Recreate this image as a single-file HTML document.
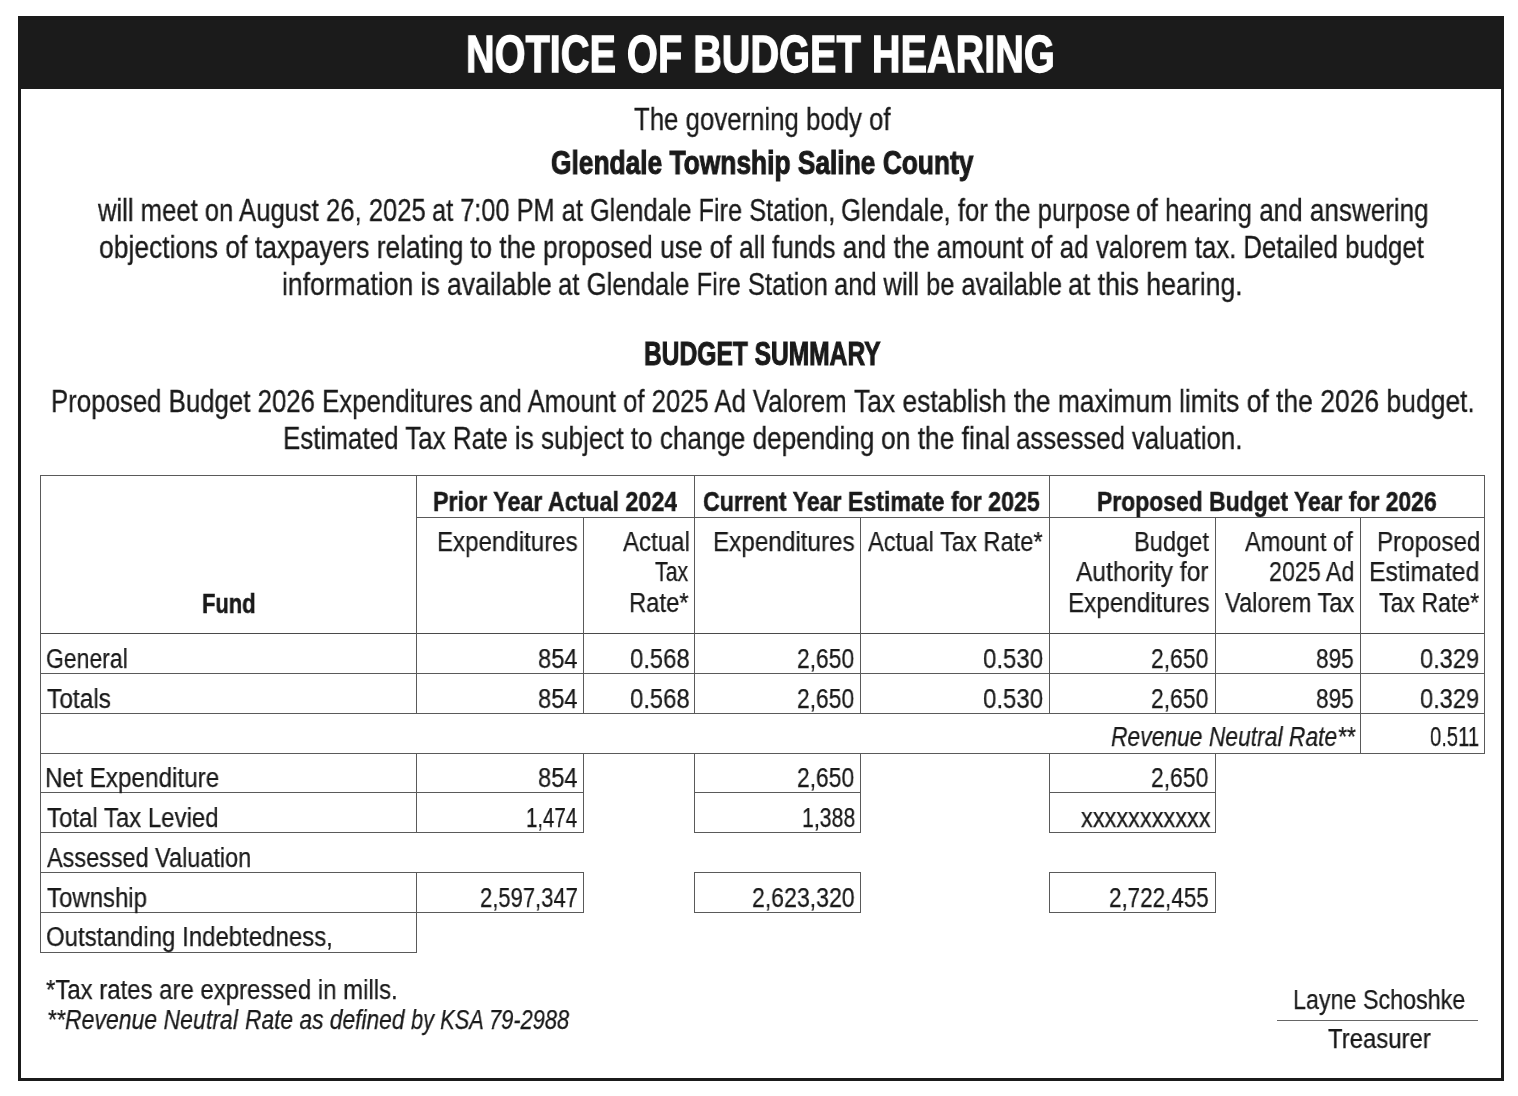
<!DOCTYPE html>
<html><head><meta charset="utf-8"><title>Notice of Budget Hearing</title>
<style>
html,body{margin:0;padding:0;background:#fff;width:1518px;height:1096px;overflow:hidden}
body{position:relative;-webkit-font-smoothing:antialiased;font-family:"Liberation Sans",sans-serif;color:#1a1a1a}
.frame{position:absolute;left:18px;top:16px;width:1480px;height:1062px;border:3px solid #1b1b1b;border-top:0}
.bar{position:absolute;left:18px;top:16px;width:1486px;height:73px;background:#1b1b1b}
.t{position:absolute;white-space:nowrap;line-height:0;transform-origin:0 0;will-change:transform}
.l{position:absolute}
.title{font-weight:700;font-style:normal;font-size:51.2px;-webkit-text-stroke:1.3px currentColor}
.sub{font-weight:700;font-style:normal;font-size:33.0px;-webkit-text-stroke:1.0px currentColor}
.body{font-weight:400;font-style:normal;font-size:30.5px;-webkit-text-stroke:0.3px currentColor}
.tb{font-weight:700;font-style:normal;font-size:27.0px;-webkit-text-stroke:0.5px currentColor}
.tr{font-weight:400;font-style:normal;font-size:26.8px;-webkit-text-stroke:0.25px currentColor}
.ti{font-weight:400;font-style:italic;font-size:26.8px;-webkit-text-stroke:0.25px currentColor}
.foot{font-weight:400;font-style:normal;font-size:27.0px;-webkit-text-stroke:0.25px currentColor}
.footi{font-weight:400;font-style:italic;font-size:27.0px;-webkit-text-stroke:0.25px currentColor}
</style></head><body>
<div class="frame"></div>
<div class="bar"></div>
<div class="l" style="left:40px;top:475px;width:1445px;height:1px;background:#5a5a5a"></div>
<div class="l" style="left:416px;top:517px;width:1069px;height:1px;background:#5a5a5a"></div>
<div class="l" style="left:40px;top:633px;width:1445px;height:1px;background:#4a4a4a"></div>
<div class="l" style="left:40px;top:673px;width:1445px;height:1px;background:#5a5a5a"></div>
<div class="l" style="left:40px;top:713px;width:1445px;height:1px;background:#5a5a5a"></div>
<div class="l" style="left:40px;top:753px;width:1445px;height:1px;background:#5a5a5a"></div>
<div class="l" style="left:40px;top:792px;width:544px;height:1px;background:#5a5a5a"></div>
<div class="l" style="left:694px;top:792px;width:167px;height:1px;background:#5a5a5a"></div>
<div class="l" style="left:1049px;top:792px;width:167px;height:1px;background:#5a5a5a"></div>
<div class="l" style="left:40px;top:832px;width:544px;height:1px;background:#5a5a5a"></div>
<div class="l" style="left:694px;top:832px;width:167px;height:1px;background:#5a5a5a"></div>
<div class="l" style="left:1049px;top:832px;width:167px;height:1px;background:#5a5a5a"></div>
<div class="l" style="left:40px;top:872px;width:544px;height:1px;background:#5a5a5a"></div>
<div class="l" style="left:694px;top:872px;width:167px;height:1px;background:#5a5a5a"></div>
<div class="l" style="left:1049px;top:872px;width:167px;height:1px;background:#5a5a5a"></div>
<div class="l" style="left:40px;top:912px;width:544px;height:1px;background:#5a5a5a"></div>
<div class="l" style="left:694px;top:912px;width:167px;height:1px;background:#5a5a5a"></div>
<div class="l" style="left:1049px;top:912px;width:167px;height:1px;background:#5a5a5a"></div>
<div class="l" style="left:40px;top:952px;width:377px;height:1px;background:#5a5a5a"></div>
<div class="l" style="left:40px;top:475px;width:1px;height:478px;background:#5a5a5a"></div>
<div class="l" style="left:416px;top:475px;width:1px;height:239px;background:#5a5a5a"></div>
<div class="l" style="left:416px;top:753px;width:1px;height:80px;background:#5a5a5a"></div>
<div class="l" style="left:416px;top:872px;width:1px;height:81px;background:#5a5a5a"></div>
<div class="l" style="left:583px;top:517px;width:1px;height:197px;background:#5a5a5a"></div>
<div class="l" style="left:583px;top:753px;width:1px;height:80px;background:#5a5a5a"></div>
<div class="l" style="left:583px;top:872px;width:1px;height:41px;background:#5a5a5a"></div>
<div class="l" style="left:694px;top:475px;width:1px;height:239px;background:#5a5a5a"></div>
<div class="l" style="left:694px;top:753px;width:1px;height:80px;background:#5a5a5a"></div>
<div class="l" style="left:694px;top:872px;width:1px;height:41px;background:#5a5a5a"></div>
<div class="l" style="left:860px;top:517px;width:1px;height:197px;background:#5a5a5a"></div>
<div class="l" style="left:860px;top:753px;width:1px;height:80px;background:#5a5a5a"></div>
<div class="l" style="left:860px;top:872px;width:1px;height:41px;background:#5a5a5a"></div>
<div class="l" style="left:1049px;top:475px;width:1px;height:239px;background:#5a5a5a"></div>
<div class="l" style="left:1049px;top:753px;width:1px;height:80px;background:#5a5a5a"></div>
<div class="l" style="left:1049px;top:872px;width:1px;height:41px;background:#5a5a5a"></div>
<div class="l" style="left:1215px;top:517px;width:1px;height:197px;background:#5a5a5a"></div>
<div class="l" style="left:1215px;top:753px;width:1px;height:80px;background:#5a5a5a"></div>
<div class="l" style="left:1215px;top:872px;width:1px;height:41px;background:#5a5a5a"></div>
<div class="l" style="left:1360px;top:517px;width:1px;height:237px;background:#5a5a5a"></div>
<div class="l" style="left:1484px;top:475px;width:1px;height:279px;background:#5a5a5a"></div>
<div class="l" style="left:1277px;top:1020px;width:201px;height:1px;background:#666"></div>
<div class="t title" style="left:466.25px;top:55px;transform:scaleX(0.7755);color:#ffffff">NOTICE OF BUDGET HEARING</div>
<div class="t body" style="left:634.00px;top:119px;transform:scaleX(0.8454)">The governing body of</div>
<div class="t sub" style="left:551.00px;top:163px;transform:scaleX(0.7981)">Glendale Township Saline County</div>
<div class="t body" style="left:98.04px;top:210px;transform:scaleX(0.8405)">will meet on August 26, 2025</div>
<div class="t body" style="left:432.17px;top:210px;transform:scaleX(0.8315)">at 7:00 PM at Glendale Fire Station,</div>
<div class="t body" style="left:840.96px;top:210px;transform:scaleX(0.8406)">Glendale, for the purpose</div>
<div class="t body" style="left:1136.45px;top:210px;transform:scaleX(0.8544)">of hearing and answering</div>
<div class="t body" style="left:99.23px;top:247px;transform:scaleX(0.8667)">objections of taxpayers relating</div>
<div class="t body" style="left:470.40px;top:247px;transform:scaleX(0.8622)">to the proposed use of all</div>
<div class="t body" style="left:772.40px;top:247px;transform:scaleX(0.8524)">funds and the amount of ad</div>
<div class="t body" style="left:1095.80px;top:247px;transform:scaleX(0.8445)">valorem tax. Detailed budget</div>
<div class="t body" style="left:282.23px;top:284px;transform:scaleX(0.8695)">information is available</div>
<div class="t body" style="left:558.06px;top:284px;transform:scaleX(0.8421)">at Glendale Fire Station</div>
<div class="t body" style="left:833.86px;top:284px;transform:scaleX(0.8354)">and will be available</div>
<div class="t body" style="left:1068.23px;top:284px;transform:scaleX(0.8726)">at this hearing.</div>
<div class="t sub" style="left:643.86px;top:354px;transform:scaleX(0.7445)">BUDGET SUMMARY</div>
<div class="t body" style="left:50.91px;top:401px;transform:scaleX(0.8460)">Proposed Budget 2026 Expenditures</div>
<div class="t body" style="left:479.36px;top:401px;transform:scaleX(0.8414)">and Amount of 2025 Ad Valorem</div>
<div class="t body" style="left:854.20px;top:401px;transform:scaleX(0.8649)">Tax establish the maximum</div>
<div class="t body" style="left:1178.73px;top:401px;transform:scaleX(0.8680)">limits of the 2026 budget.</div>
<div class="t body" style="left:282.80px;top:438px;transform:scaleX(0.8514)">Estimated Tax Rate is</div>
<div class="t body" style="left:541.10px;top:438px;transform:scaleX(0.8548)">subject to change depending</div>
<div class="t body" style="left:880.73px;top:438px;transform:scaleX(0.8653)">on the final</div>
<div class="t body" style="left:1015.96px;top:438px;transform:scaleX(0.8449)">assessed valuation.</div>
<div class="t tb" style="left:433.24px;top:502px;transform:scaleX(0.8608)">Prior Year Actual 2024</div>
<div class="t tb" style="left:703.40px;top:502px;transform:scaleX(0.8575)">Current Year Estimate for 2025</div>
<div class="t tb" style="left:1096.75px;top:502px;transform:scaleX(0.8491)">Proposed Budget Year for 2026</div>
<div class="t tb" style="left:201.79px;top:604px;transform:scaleX(0.8109)">Fund</div>
<div class="t tr" style="left:436.70px;top:542px;transform:scaleX(0.8994)">Expenditures</div>
<div class="t tr" style="left:622.80px;top:542px;transform:scaleX(0.8986)">Actual</div>
<div class="t tr" style="left:655.00px;top:572px;transform:scaleX(0.7952)">Tax</div>
<div class="t tr" style="left:628.82px;top:603px;transform:scaleX(0.8892)">Rate*</div>
<div class="t tr" style="left:713.19px;top:542px;transform:scaleX(0.9058)">Expenditures</div>
<div class="t tr" style="left:868.00px;top:542px;transform:scaleX(0.8838)">Actual Tax Rate*</div>
<div class="t tr" style="left:1133.73px;top:542px;transform:scaleX(0.8831)">Budget</div>
<div class="t tr" style="left:1075.80px;top:572px;transform:scaleX(0.9172)">Authority for</div>
<div class="t tr" style="left:1067.59px;top:603px;transform:scaleX(0.9052)">Expenditures</div>
<div class="t tr" style="left:1245.20px;top:542px;transform:scaleX(0.8813)">Amount of</div>
<div class="t tr" style="left:1269.43px;top:572px;transform:scaleX(0.8677)">2025 Ad</div>
<div class="t tr" style="left:1224.80px;top:603px;transform:scaleX(0.8822)">Valorem Tax</div>
<div class="t tr" style="left:1376.70px;top:542px;transform:scaleX(0.9009)">Proposed</div>
<div class="t tr" style="left:1369.15px;top:572px;transform:scaleX(0.9267)">Estimated</div>
<div class="t tr" style="left:1378.50px;top:603px;transform:scaleX(0.8621)">Tax Rate*</div>
<div class="t tr" style="left:45.64px;top:659px;transform:scaleX(0.8570)">General</div>
<div class="t tr" style="left:538.12px;top:659px;transform:scaleX(0.8837)">854</div>
<div class="t tr" style="left:629.71px;top:659px;transform:scaleX(0.8892)">0.568</div>
<div class="t tr" style="left:796.95px;top:659px;transform:scaleX(0.8515)">2,650</div>
<div class="t tr" style="left:983.00px;top:659px;transform:scaleX(0.8955)">0.530</div>
<div class="t tr" style="left:1151.25px;top:659px;transform:scaleX(0.8545)">2,650</div>
<div class="t tr" style="left:1316.46px;top:659px;transform:scaleX(0.8442)">895</div>
<div class="t tr" style="left:1420.32px;top:659px;transform:scaleX(0.8815)">0.329</div>
<div class="t tr" style="left:46.50px;top:699px;transform:scaleX(0.9145)">Totals</div>
<div class="t tr" style="left:538.12px;top:699px;transform:scaleX(0.8837)">854</div>
<div class="t tr" style="left:629.71px;top:699px;transform:scaleX(0.8892)">0.568</div>
<div class="t tr" style="left:796.95px;top:699px;transform:scaleX(0.8515)">2,650</div>
<div class="t tr" style="left:983.00px;top:699px;transform:scaleX(0.8955)">0.530</div>
<div class="t tr" style="left:1151.25px;top:699px;transform:scaleX(0.8545)">2,650</div>
<div class="t tr" style="left:1316.46px;top:699px;transform:scaleX(0.8442)">895</div>
<div class="t tr" style="left:1420.32px;top:699px;transform:scaleX(0.8815)">0.329</div>
<div class="t ti" style="left:1111.00px;top:737px;transform:scaleX(0.8530)">Revenue Neutral Rate**</div>
<div class="t tr" style="left:1430.14px;top:737px;transform:scaleX(0.7556)">0.511</div>
<div class="t tr" style="left:44.69px;top:778px;transform:scaleX(0.9069)">Net Expenditure</div>
<div class="t tr" style="left:538.12px;top:778px;transform:scaleX(0.8837)">854</div>
<div class="t tr" style="left:796.95px;top:778px;transform:scaleX(0.8515)">2,650</div>
<div class="t tr" style="left:1151.25px;top:778px;transform:scaleX(0.8545)">2,650</div>
<div class="t tr" style="left:46.50px;top:818px;transform:scaleX(0.8953)">Total Tax Levied</div>
<div class="t tr" style="left:525.94px;top:818px;transform:scaleX(0.7621)">1,474</div>
<div class="t tr" style="left:801.61px;top:818px;transform:scaleX(0.7938)">1,388</div>
<div class="t tr" style="left:1080.70px;top:818px;transform:scaleX(0.8789)">xxxxxxxxxxx</div>
<div class="t tr" style="left:46.50px;top:858px;transform:scaleX(0.8750)">Assessed Valuation</div>
<div class="t tr" style="left:46.50px;top:898px;transform:scaleX(0.8955)">Township</div>
<div class="t tr" style="left:480.08px;top:898px;transform:scaleX(0.8214)">2,597,347</div>
<div class="t tr" style="left:751.54px;top:898px;transform:scaleX(0.8610)">2,623,320</div>
<div class="t tr" style="left:1108.96px;top:898px;transform:scaleX(0.8364)">2,722,455</div>
<div class="t tr" style="left:45.60px;top:937px;transform:scaleX(0.8956)">Outstanding Indebtedness,</div>
<div class="t foot" style="left:46.30px;top:990px;transform:scaleX(0.8876)">*Tax rates are expressed in mills.</div>
<div class="t footi" style="left:46.75px;top:1020px;transform:scaleX(0.8536)">**Revenue Neutral</div>
<div class="t footi" style="left:244.80px;top:1020px;transform:scaleX(0.8437)">Rate as defined</div>
<div class="t footi" style="left:411.10px;top:1020px;transform:scaleX(0.8087)">by KSA 79-2988</div>
<div class="t foot" style="left:1293.17px;top:1000px;transform:scaleX(0.8635)">Layne Schoshke</div>
<div class="t foot" style="left:1328.40px;top:1039px;transform:scaleX(0.8862)">Treasurer</div>
</body></html>
